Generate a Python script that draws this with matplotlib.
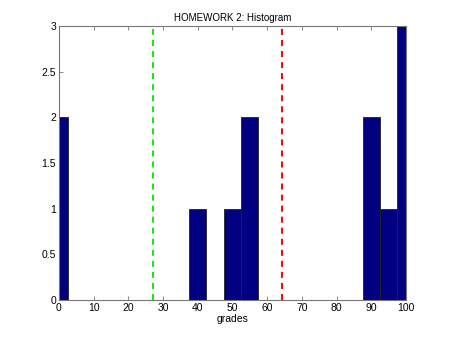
import matplotlib
matplotlib.use("Agg")
import matplotlib.pyplot as plt

# bin centres (width 5) and how many grades fell in each
centers = [0, 40, 50, 55, 90, 95, 100]
counts = [2, 1, 1, 2, 2, 1, 3]
bin_width = 5
lower_line = 27.1   # mean - std
mean_line = 64.3    # mean

plt.rcParams['font.family'] = ['Liberation Sans', 'DejaVu Sans']
fig = plt.figure(figsize=(4.5, 3.39), dpi=100)
ax = fig.add_axes([0.131, 0.115, 0.771, 0.808])

ax.bar(centers, counts, width=bin_width, color=(0, 0, 0.5),
       edgecolor='#222222', linewidth=0.6, zorder=2)
ax.axvline(lower_line, color=(0.1, 0.9, 0.1), linestyle='--', linewidth=1.5, dashes=(2.9, 2.4), zorder=3)
ax.axvline(mean_line, color=(0.95, 0.05, 0.05), linestyle='--', linewidth=1.5, dashes=(2.9, 2.4), zorder=3)

ax.set_xlim(0, 100)
ax.set_ylim(0, 3)
ax.set_xticks(range(0, 101, 10))
ax.set_yticks([0, 0.5, 1, 1.5, 2, 2.5, 3])
ax.set_yticklabels(['0', '0.5', '1', '1.5', '2', '2.5', '3'])
ax.tick_params(direction='in', top=True, right=True, labelsize=7.5,
               length=3, width=0.6, color='#777777', pad=2)
for s in ax.spines.values():
    s.set_color('#777777')
    s.set_linewidth(0.8)
    s.set_zorder(4)

ax.set_title('HOMEWORK 2: Histogram', fontsize=7, pad=4)
ax.set_xlabel('grades', fontsize=7.5, labelpad=1)

fig.savefig('out.png', dpi=100)
